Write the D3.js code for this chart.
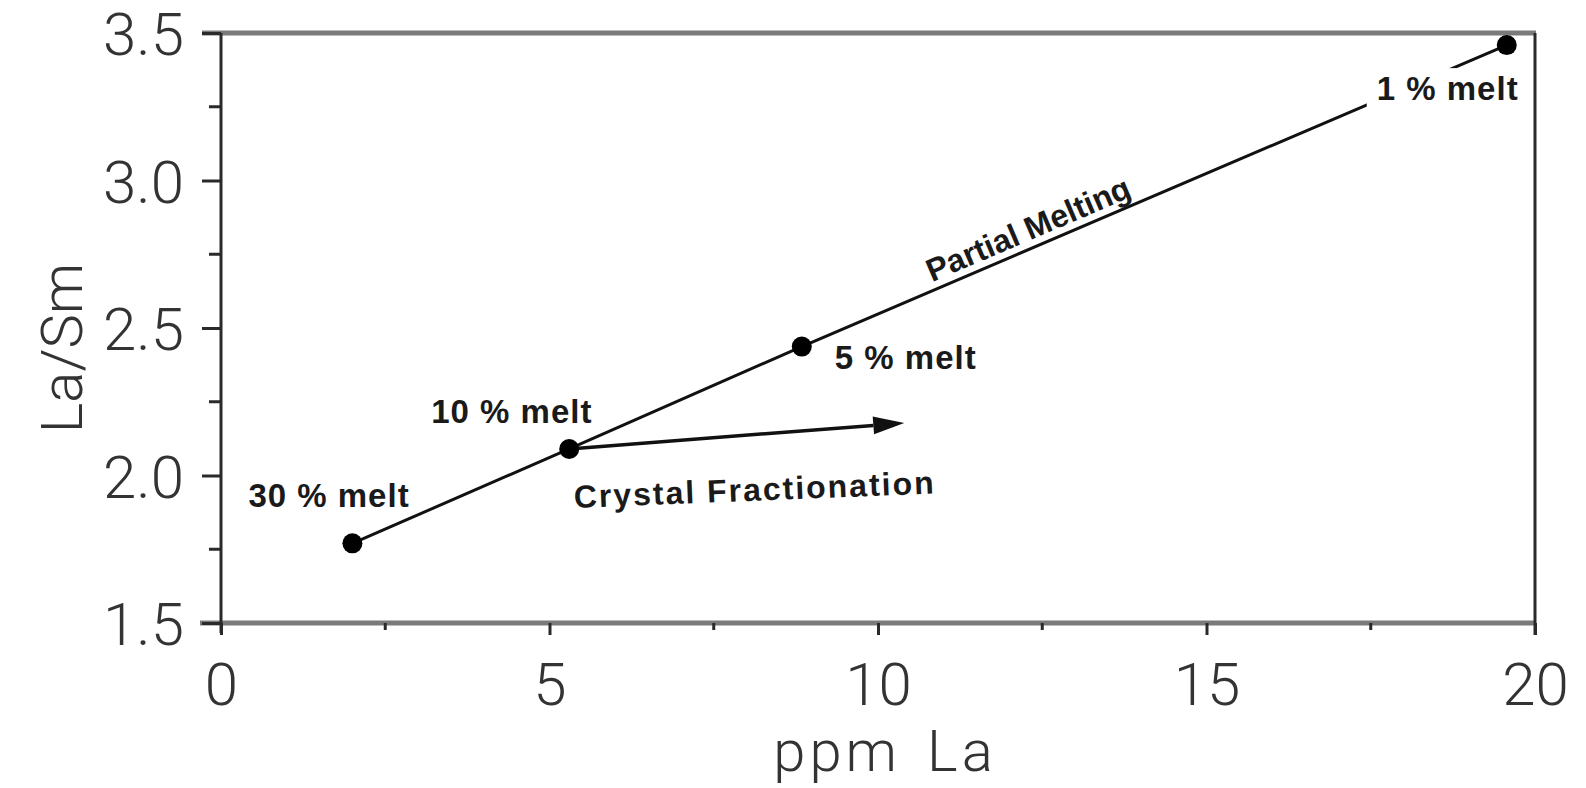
<!DOCTYPE html>
<html>
<head>
<meta charset="utf-8">
<script src="https://cdn.jsdelivr.net/npm/d3@7"></script>
<style>
  html, body { margin: 0; padding: 0; background: #fff; }
  svg { display: block; }
  .tick-label { font-family: Roboto, 'Liberation Sans', sans-serif; font-weight: 300; fill: #333; }
  .note { font-family: 'Liberation Sans', Arial, sans-serif; font-weight: bold; fill: #1a1a1a; }
</style>
</head>
<body>
<div id="chart"></div>
<script>
// melt model points
const meltLabels = ['30 % melt', '10 % melt', '5 % melt', '1 % melt'];
const ppmLa = [2.0, 5.3, 8.84, 19.57];
const laSm = [1.77, 2.09, 2.437, 3.459];

// crystal fractionation arrow: starts at the 10 % point
const fracStart = [5.3, 2.09];
const fracEnd = [10.4, 2.178];

const xTicks = [0, 5, 10, 15, 20];
const xMinor = [2.5, 7.5, 12.5, 17.5];
const yTicks = [1.5, 2.0, 2.5, 3.0, 3.5];
const yMinor = [1.75, 2.25, 2.75, 3.25];

const size = { width: 1586, height: 788 };
const margin = { left: 221, right: 51, top: 33, bottom: 165 };

const svg = d3.select('#chart')
  .append('svg')
  .attr('width', size.width)
  .attr('height', size.height);

const x = d3.scaleLinear().domain([0, 20]).range([margin.left, size.width - margin.right]);
const y = d3.scaleLinear().domain([1.5, 3.5]).range([size.height - margin.bottom, margin.top]);

const x0 = x.range()[0], x1 = x.range()[1];
const yb = y.range()[0], yt = y.range()[1];

// frame: thick grey top/bottom, thin dark sides
const frame = svg.append('g');
frame.append('line').attr('x1', x0 - 19).attr('x2', x1 + 1).attr('y1', yt).attr('y2', yt)
  .attr('stroke', '#7a7a7a').attr('stroke-width', 5);
frame.append('line').attr('x1', x0 - 21).attr('x2', x1 + 1).attr('y1', yb).attr('y2', yb)
  .attr('stroke', '#7a7a7a').attr('stroke-width', 5);
frame.append('line').attr('x1', x0).attr('x2', x0).attr('y1', yt).attr('y2', yb + 10)
  .attr('stroke', '#2a2a2a').attr('stroke-width', 3);
frame.append('line').attr('x1', x1).attr('x2', x1).attr('y1', yt).attr('y2', yb + 12)
  .attr('stroke', '#2a2a2a').attr('stroke-width', 3);

// x axis
const xAxis = svg.append('g')
  .attr('transform', `translate(0,${yb})`)
  .call(d3.axisBottom(x).tickValues(xTicks).tickSize(12).tickPadding(27).tickFormat(d3.format('d')));
xAxis.select('.domain').remove();
xAxis.selectAll('.tick line').attr('stroke', '#2a2a2a').attr('stroke-width', 3);
xAxis.selectAll('.tick text').attr('class', 'tick-label').style('font-size', '60px')
  .attr('dy', '0.71em');

svg.append('g').selectAll('line').data(xMinor).join('line')
  .attr('x1', (d) => x(d)).attr('x2', (d) => x(d))
  .attr('y1', yb).attr('y2', yb + 7)
  .attr('stroke', '#2a2a2a').attr('stroke-width', 3);

// y axis
const yAxis = svg.append('g')
  .attr('transform', `translate(${x0},0)`)
  .call(d3.axisLeft(y).tickValues(yTicks).tickSize(19).tickPadding(18).tickFormat(d3.format('.1f')));
yAxis.select('.domain').remove();
yAxis.selectAll('.tick line').attr('stroke', '#2a2a2a').attr('stroke-width', 3);
yAxis.selectAll('.tick text').attr('class', 'tick-label').style('font-size', '60px')
  .attr('dy', '0.36em');

svg.append('g').selectAll('line').data(yMinor).join('line')
  .attr('x1', x0 - 12).attr('x2', x0)
  .attr('y1', (d) => y(d)).attr('y2', (d) => y(d))
  .attr('stroke', '#2a2a2a').attr('stroke-width', 3);

// axis titles
svg.append('text')
  .attr('class', 'tick-label')
  .attr('transform', `translate(${x0 - 160},${(yt + yb) / 2 + 20}) rotate(-90)`)
  .attr('text-anchor', 'middle')
  .attr('dy', '0.36em')
  .style('font-size', '58px')
  .text('La/Sm');

svg.append('text')
  .attr('class', 'tick-label')
  .attr('x', 885)
  .attr('y', yb + 148)
  .attr('text-anchor', 'middle')
  .style('font-size', '58px')
  .style('letter-spacing', '4px')
  .style('word-spacing', '8px')
  .text('ppm La');

// partial melting line
const pts = ppmLa.map((d, i) => ({ la: d, ratio: laSm[i], label: meltLabels[i] }));
const line = d3.line().x((d) => x(d.la)).y((d) => y(d.ratio));

svg.append('path')
  .datum(pts)
  .attr('d', line)
  .attr('fill', 'none')
  .attr('stroke', '#111')
  .attr('stroke-width', 3);

// crystal fractionation arrow
const ax0 = x(fracStart[0]), ay0 = y(fracStart[1]);
const ax1 = x(fracEnd[0]), ay1 = y(fracEnd[1]);
const ang = Math.atan2(ay1 - ay0, ax1 - ax0);
const headLen = 31, headHalf = 9;
const bx = ax1 - headLen * Math.cos(ang), by = ay1 - headLen * Math.sin(ang);
svg.append('line')
  .attr('x1', ax0).attr('y1', ay0).attr('x2', bx).attr('y2', by)
  .attr('stroke', '#111').attr('stroke-width', 3.5);
svg.append('path')
  .attr('d', `M${ax1},${ay1}L${bx - headHalf * Math.sin(ang)},${by + headHalf * Math.cos(ang)}`
    + `L${bx + headHalf * Math.sin(ang)},${by - headHalf * Math.cos(ang)}Z`)
  .attr('fill', '#111');

// melt labels (offsets from each point)
const labelOffset = [[-104, -36], [-138, -26], [33, 22], [-130, 55]];
const labels = svg.append('g');
pts.forEach((d, i) => {
  const t = labels.append('text')
    .attr('class', 'note')
    .attr('x', x(d.la) + labelOffset[i][0])
    .attr('y', y(d.ratio) + labelOffset[i][1])
    .style('font-size', '33px')
    .style('letter-spacing', '1px')
    .text(d.label);
  if (i === 3) {
    // white knock-out behind the 1 % label, breaks the line like the original
    const bb = t.node().getBBox();
    labels.insert('rect', 'text')
      .attr('x', bb.x - 10).attr('y', bb.y - 2)
      .attr('width', bb.width + 12).attr('height', bb.height + 2)
      .attr('fill', '#fff');
  }
});

// dots
svg.append('g').selectAll('circle').data(pts).join('circle')
  .attr('cx', (d) => x(d.la))
  .attr('cy', (d) => y(d.ratio))
  .attr('r', 10)
  .attr('fill', '#000');

// Partial Melting along the line
const p5 = pts[2], p1 = pts[3];
const slope = Math.atan2(y(p1.ratio) - y(p5.ratio), x(p1.la) - x(p5.la)) * 180 / Math.PI;
const tLa = 12.4;
const tRatio = p5.ratio + (tLa - p5.la) * (p1.ratio - p5.ratio) / (p1.la - p5.la);
svg.append('text')
  .attr('class', 'note')
  .attr('transform', `translate(${x(tLa)},${y(tRatio)}) rotate(${slope}) translate(0,-8)`)
  .attr('text-anchor', 'middle')
  .style('font-size', '32px')
  .text('Partial Melting');

svg.append('text')
  .attr('class', 'note')
  .attr('transform', `translate(${ax0 + 5},${ay0 + 59}) rotate(-2.3)`)
  .style('font-size', '32px')
  .style('letter-spacing', '2px')
  .text('Crystal Fractionation');
</script>
</body>
</html>
